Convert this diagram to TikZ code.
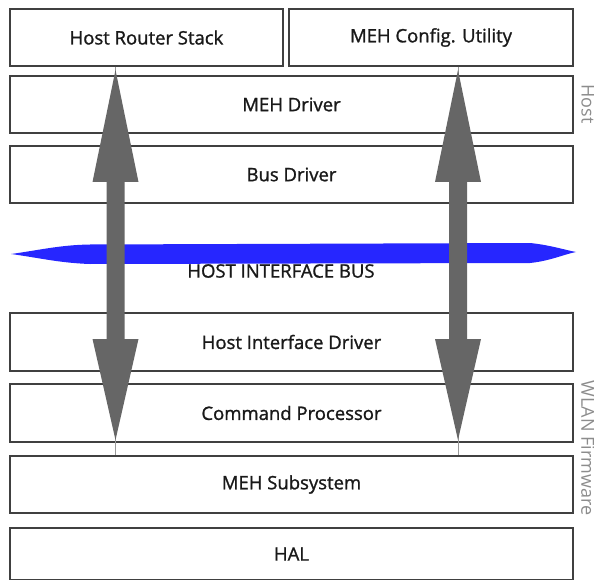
\documentclass[tikz,border=0pt]{standalone}
\usepackage{fontspec}
\setmainfont{Open Sans}[FakeBold=1.2]
\newfontfamily\sidefont{Open Sans}
\begin{document}
\begin{tikzpicture}[x=1pt,y=-1pt,
  box/.style={draw=black!75, line width=1.3pt, fill=white, inner sep=0pt,
    font=\fontsize{18.5}{20}\selectfont, text=black!90},
  sidelabel/.style={text=black!45, font=\sidefont\fontsize{18}{20}\selectfont, rotate=-90},
  thinline/.style={draw=black!40, line width=1pt},
  bigarrow/.style={fill=black!60, draw=none}]
\useasboundingbox (0,0) rectangle (594,580);
% boxes
\node[box, minimum width=273pt, minimum height=57pt] (hrs) at (146.5,37.5) {Host Router Stack};
\node[box, minimum width=284pt, minimum height=57pt] (cfg) at (431,37.5) {MEH Config. Utility};
\node[box, minimum width=563pt, minimum height=57pt] (mehd) at (291.5,104.5) {MEH Driver};
\node[box, minimum width=563pt, minimum height=57pt] (busd) at (291.5,174.5) {Bus Driver};
\node[box, minimum width=563pt, minimum height=58pt] (hid) at (291.5,342) {Host Interface Driver};
\node[box, minimum width=563pt, minimum height=58pt] (cp) at (291.5,413) {Command Processor};
\node[box, minimum width=563pt, minimum height=57pt] (mehs) at (291.5,484.5) {MEH Subsystem};
\node[box, minimum width=563pt, minimum height=52pt] (hal) at (291.5,554) {HAL};
% bus
\fill[fill=blue!85!white] (11,254)
  .. controls (40,250) and (60,245) .. (90,244.5)
  -- (530,243)
  .. controls (550,245) and (565,250) .. (576,252)
  .. controls (565,254) and (550,261) .. (530,263)
  -- (90,264)
  .. controls (60,263) and (40,258) .. (11,254) -- cycle;
\node[font=\fontsize{18.5}{20}\selectfont, text=black!90] (bus) at (281,271) {HOST INTERFACE BUS};
% side labels
\node[sidelabel] (host) at (588,104) {Host};
\node[sidelabel] (wlan) at (588,448) {WLAN Firmware};
% arrows
\coordinate (ax) at (115.5,0);
\coordinate (bx) at (458,0);
\draw[thinline] (hrs.south -| ax) -- (mehs.north -| ax);
\draw[thinline] (cfg.south -| bx) -- (mehs.north -| bx);
\foreach \c in {115.5,458}{
  \fill[bigarrow] (\c,70) -- (\c+23,182) -- (\c+9,182) -- (\c+9,339) -- (\c+23,339)
    -- (\c,440) -- (\c-23,339) -- (\c-9,339) -- (\c-9,182) -- (\c-23,182) -- cycle;
}
\end{tikzpicture}
\end{document}
